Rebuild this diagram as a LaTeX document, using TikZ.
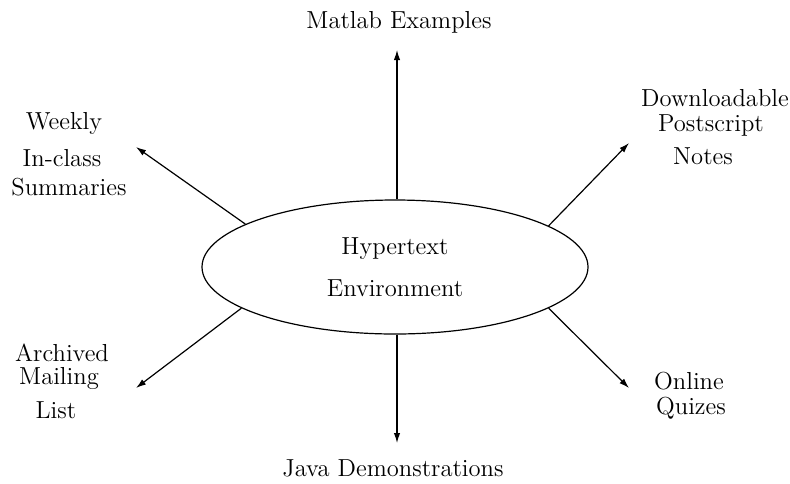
\documentclass[tikz,border=0pt]{standalone}
\usetikzlibrary{shapes.geometric,arrows.meta}
\begin{document}
\begin{tikzpicture}[x=0.5pt,y=-0.5pt,
  lbl/.style={font=\fontsize{12.3}{14.5}\selectfont, inner sep=0pt},
  hub/.style={draw, ellipse, line width=0.6pt, minimum width=193pt, minimum height=67pt, inner sep=0pt, align=center, font=\fontsize{12.3}{14.5}\selectfont},
  conn/.style={line width=0.6pt, -{Latex[length=5pt,width=3.2pt]}}]
\useasboundingbox (0,0) rectangle (790,483);
\node[hub] (e) at (395,267) {Hypertext\\[6.5pt]Environment};
% free ends
\coordinate (tN) at (397,50);
\coordinate (tS) at (397,443);
\coordinate (tNW) at (136,147);
\coordinate (tNE) at (629,143);
\coordinate (tSW) at (136,388);
\coordinate (tSE) at (629,388);
% labels
\node[lbl] (matlab) at (399,22) {Matlab Examples};
\node[lbl] (java) at (393,468) {Java Demonstrations};
\node[lbl] (wk1) at (64,123) {Weekly};
\node[lbl] (wk2) at (62,158) {In-class};
\node[lbl] (wk3) at (69,187) {Summaries};
\node[lbl] (ar1) at (62,353) {Archived};
\node[lbl] (ar2) at (59,378) {Mailing};
\node[lbl] (ar3) at (56,410) {List};
\node[lbl] (dl1) at (715,98) {Downloadable};
\node[lbl] (dl2) at (711,125) {Postscript};
\node[lbl] (dl3) at (703,156) {Notes};
\node[lbl] (on1) at (689,381) {Online};
\node[lbl] (on2) at (691,408) {Quizes};
% connectors
\draw[conn] (e.north -| tN) -- (tN);
\draw[conn] (e.south -| tS) -- (tS);
\draw[conn] (e.164.6) -- (tNW);
\draw[conn] (e.15.5) -- (tNE);
\draw[conn] (e.195) -- (tSW);
\draw[conn] (e.-15.5) -- (tSE);
\end{tikzpicture}
\end{document}
